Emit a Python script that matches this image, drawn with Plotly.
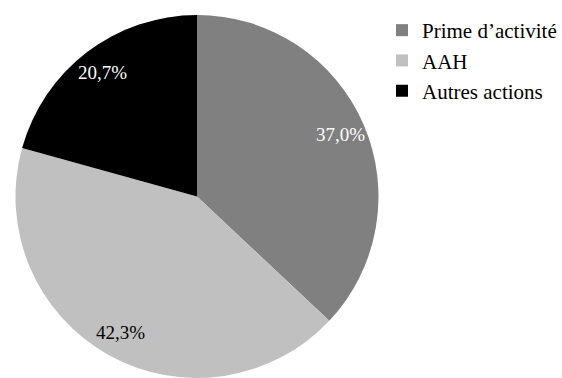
import math
import plotly.graph_objects as go

# Répartition des dépenses
categories = ["Prime d\u2019activité", "AAH", "Autres actions"]
shares = [37.0, 42.3, 20.7]
slice_colors = ["#808080", "#c0c0c0", "#000000"]
label_colors = ["#ffffff", "#000000", "#ffffff"]

W, H = 562, 378
FONT = "Liberation Serif"

# Pie placement (pixels) used for the domain and for the value labels
left_px, right_px, top_px = 12, 382, 15
dom_x = [left_px / W, right_px / W]
dom_y = [0.0, 1 - top_px / H]
radius = min(right_px - left_px, H - top_px) / 2
cx = (left_px + right_px) / 2
cy = top_px + (H - top_px) / 2

fig = go.Figure(
    go.Pie(
        labels=categories,
        values=shares,
        sort=False,
        direction="clockwise",
        rotation=0,
        marker=dict(colors=slice_colors, line=dict(width=0)),
        textinfo="none",
        hoverinfo="label+percent",
        domain=dict(x=dom_x, y=dom_y),
    )
)

# Value labels along each slice bisector
total = sum(shares)
cum = 0.0
for val, col in zip(shares, label_colors):
    mid = (cum + val / 2) / total * 2 * math.pi
    cum += val
    r = 0.86 * radius
    px = cx + r * math.sin(mid)
    py = cy - r * math.cos(mid)
    fig.add_annotation(
        x=px / W, y=1 - py / H, xref="paper", yref="paper",
        text=f"{val:.1f}%".replace(".", ","),
        showarrow=False,
        font=dict(family=FONT, size=19, color=col),
        xanchor="center", yanchor="middle",
    )

fig.update_layout(
    width=W, height=H,
    margin=dict(l=0, r=0, t=0, b=0),
    paper_bgcolor="white",
    plot_bgcolor="white",
    font=dict(family=FONT, size=19, color="black"),
    legend=dict(
        x=382 / W, y=1 - 10 / H, xanchor="left", yanchor="top",
        font=dict(family=FONT, size=21, color="black"),
        bgcolor="rgba(0,0,0,0)",
    ),
)

fig.write_html("out.html")
